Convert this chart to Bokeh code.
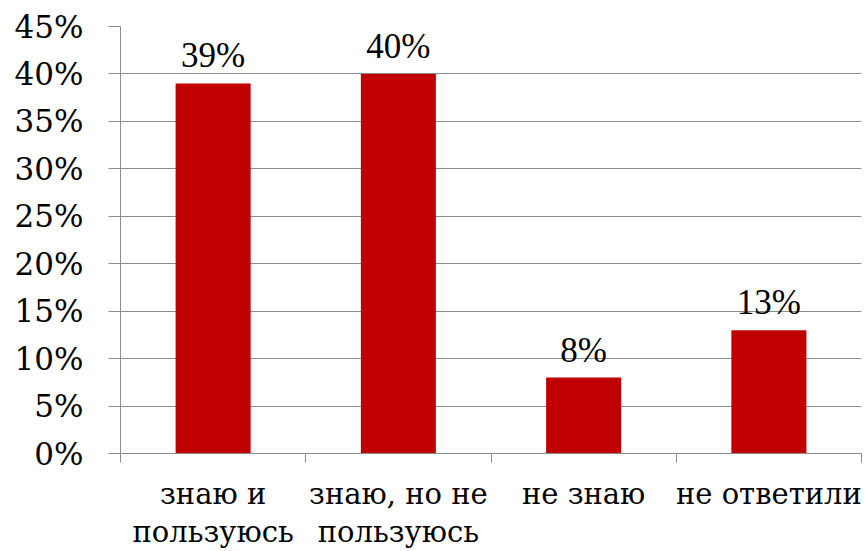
from bokeh.plotting import figure
from bokeh.models import ColumnDataSource, LabelSet, FixedTicker, LinearAxis, Range1d, PrintfTickFormatter
from bokeh.embed import file_html
from bokeh.resources import INLINE

categories = ["знаю и\nпользуюсь", "знаю, но не\nпользуюсь", "не знаю", "не ответили"]
values = [39, 40, 8, 13]
y_ticks = [0, 5, 10, 15, 20, 25, 30, 35, 40, 45]

FONT = "DejaVu Serif"
GRID = "#8c8c8c"
BAR = "#C00000"

n = len(categories)
xs = [i + 0.5 for i in range(n)]
src = ColumnDataSource(dict(x=xs, top=values, label=[f"{v}%" for v in values]))
line1 = [c.split("\n")[0] for c in categories]
line2 = [(c.split("\n") + [""])[1] for c in categories]

p = figure(width=862, height=551, output_backend="svg", toolbar_location=None,
           x_range=Range1d(0, n), y_range=Range1d(0, 45),
           min_border_left=120, min_border_right=1, min_border_top=26, min_border_bottom=96)
p.outline_line_color = None
p.background_fill_color = "white"

p.vbar(x="x", top="top", width=0.405, source=src, fill_color=BAR, line_color=None)

# y axis
p.yaxis.ticker = FixedTicker(ticks=y_ticks)
p.yaxis.formatter = PrintfTickFormatter(format="%d%%")
p.yaxis.axis_line_color = GRID
p.yaxis.major_tick_line_color = GRID
p.yaxis.major_tick_out = 12
p.yaxis.major_tick_in = 0
p.yaxis.minor_tick_line_color = None
p.yaxis.major_label_text_font = FONT
p.yaxis.major_label_text_font_size = "31px"
p.yaxis.major_label_text_color = "black"
p.yaxis.major_label_standoff = 25

p.ygrid.ticker = FixedTicker(ticks=y_ticks)
p.ygrid.grid_line_color = GRID
p.xgrid.grid_line_color = None

# x axis: first label line at category centres, boundary marks as minor ticks
p.xaxis.ticker = FixedTicker(ticks=xs, minor_ticks=list(range(n + 1)))
p.xaxis.major_label_overrides = {x: t for x, t in zip(xs, line1)}
p.xaxis.axis_line_color = GRID
p.xaxis.major_tick_line_color = None
p.xaxis.major_tick_out = 0
p.xaxis.major_tick_in = 0
p.xaxis.minor_tick_line_color = GRID
p.xaxis.minor_tick_out = 9
p.xaxis.minor_tick_in = 0
p.xaxis.major_label_text_font = FONT
p.xaxis.major_label_text_font_size = "29px"
p.xaxis.major_label_text_line_height = 1.0
p.xaxis.major_label_text_color = "black"
p.xaxis.major_label_standoff = 14

# second label line
ax2 = LinearAxis(ticker=FixedTicker(ticks=xs),
                 major_label_overrides={x: t for x, t in zip(xs, line2)})
ax2.axis_line_color = None
ax2.major_tick_line_color = None
ax2.minor_tick_line_color = None
ax2.major_tick_out = 0
ax2.major_tick_in = 0
ax2.major_label_text_font = FONT
ax2.major_label_text_font_size = "29px"
ax2.major_label_text_line_height = 1.0
ax2.major_label_text_color = "black"
ax2.major_label_standoff = 1
p.add_layout(ax2, "below")

labels = LabelSet(x="x", y="top", text="label", source=src, text_align="center",
                  text_baseline="alphabetic", y_offset=16, text_font=FONT,
                  text_font_size="35px", text_color="black")
p.add_layout(labels)

open("out.html", "w").write(file_html(p, INLINE))
